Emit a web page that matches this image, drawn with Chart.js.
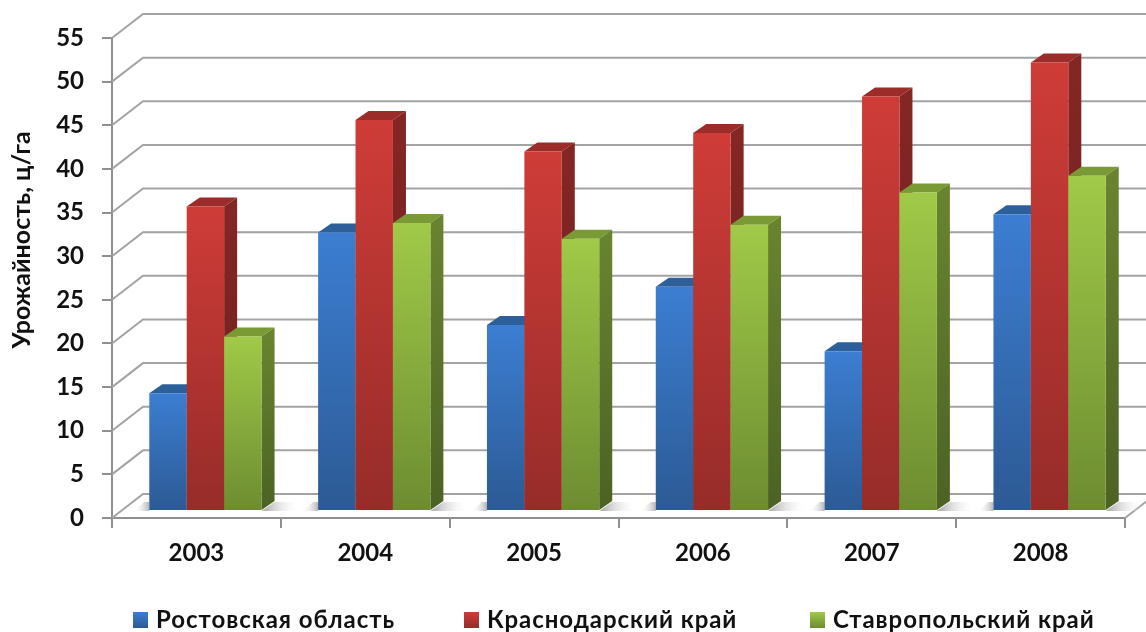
<!DOCTYPE html>
<html>
<head>
<meta charset="utf-8">
<style>
  html, body { margin: 0; padding: 0; background: #fff; }
  canvas { display: block; }
</style>
<script src="https://cdn.jsdelivr.net/npm/chart.js@4"></script>
</head>
<body>
<canvas id="chart" width="1146" height="632"></canvas>
<script>
const years = ['2003', '2004', '2005', '2006', '2007', '2008'];
const rostov = [13.5, 31.9, 21.3, 25.7, 18.3, 34];
const krasnodar = [34.9, 44.8, 41.2, 43.3, 47.5, 51.4];
const stavropol = [20, 33, 31.2, 32.8, 36.5, 38.4];
const regionNames = ['Ростовская область', 'Краснодарский край', 'Ставропольский край'];
const axisTitle = 'Урожайность, ц/га';
const legendX = [133, 464, 810];

// front, top and side colours of each series
const fronts = [['#3c7ed2', '#2c5a94'], ['#cf3c38', '#962c29'], ['#a0ca48', '#6d8c31']];
const tops = ['#2d5f9b', '#9c2c29', '#7a9a35'];
const sides = [['#2a5588', '#234a78'], ['#842624', '#6e1f1d'], ['#68842f', '#4b6224']];

const FONT = 'Lato, "Noto Sans", sans-serif';
const GRID = '#a3a3a3';
const AXIS = '#8f8f8f';

// wall depth of the 3d box, bar depth, and how far bars stand off the front edge
const wallX = 31, wallY = 24;
const barDX = 13, barDY = 9;
const shiftX = 9, shiftY = 7;

function frontFill(index) {
  return function (c) {
    const s = c.chart.scales.y;
    if (c.type !== 'data' || !s) return fronts[index][0];
    const y0 = s.getPixelForValue(c.raw), y1 = s.getPixelForValue(0);
    // scales have no pixels until the first layout has run
    if (!isFinite(y0) || !isFinite(y1)) return fronts[index][0];
    const g = c.chart.ctx.createLinearGradient(0, y0, 0, y1);
    g.addColorStop(0, fronts[index][0]);
    g.addColorStop(1, fronts[index][1]);
    return g;
  };
}

function drawWalls(chart) {
  const ctx = chart.ctx, y = chart.scales.y, a = chart.chartArea;
  ctx.save();
  ctx.strokeStyle = GRID;
  ctx.lineWidth = 2;
  ctx.beginPath();
  y.ticks.forEach(t => {
    const p = y.getPixelForValue(t.value);
    ctx.moveTo(a.left, p);
    ctx.lineTo(a.left + wallX, p - wallY);
    ctx.lineTo(a.right + wallX, p - wallY);
  });
  ctx.moveTo(a.right, a.bottom);
  ctx.lineTo(a.right + wallX, a.bottom - wallY);
  ctx.stroke();

  // soft floor shadow either side of each group
  const first = chart.getDatasetMeta(0).data, last = chart.getDatasetMeta(2).data;
  const y1 = y.getPixelForValue(0) - shiftY, y0 = y1 - barDY;
  first.forEach((bar, i) => {
    const l = bar.x - bar.width / 2 + shiftX;
    const r = last[i].x + last[i].width / 2 + shiftX;
    let g = ctx.createLinearGradient(r + 4, 0, r + 38, 0);
    g.addColorStop(0, '#b4b4b4');
    g.addColorStop(1, 'rgba(255,255,255,0)');
    ctx.fillStyle = g;
    ctx.beginPath();
    ctx.moveTo(r, y1);
    ctx.lineTo(r + barDX, y0);
    ctx.lineTo(r + 38, y0);
    ctx.lineTo(r + 38, y1);
    ctx.fill();
    g = ctx.createLinearGradient(l, 0, l - 16, 0);
    g.addColorStop(0, '#b4b4b4');
    g.addColorStop(1, 'rgba(255,255,255,0)');
    ctx.fillStyle = g;
    ctx.beginPath();
    ctx.moveTo(l, y0);
    ctx.lineTo(l, y1);
    ctx.lineTo(l - 16, y1);
    ctx.lineTo(l - 5, y0);
    ctx.fill();
  });
  ctx.restore();
}

function drawFaces(ctx, meta, i) {
  meta.data.forEach(bar => {
    const l = bar.x - bar.width / 2, r = bar.x + bar.width / 2;
    ctx.fillStyle = tops[i];
    ctx.beginPath();
    ctx.moveTo(l, bar.y);
    ctx.lineTo(l + barDX, bar.y - barDY);
    ctx.lineTo(r + barDX, bar.y - barDY);
    ctx.lineTo(r, bar.y);
    ctx.fill();
    const g = ctx.createLinearGradient(0, bar.y, 0, bar.base);
    g.addColorStop(0, sides[i][0]);
    g.addColorStop(1, sides[i][1]);
    ctx.fillStyle = g;
    ctx.beginPath();
    ctx.moveTo(r, bar.y);
    ctx.lineTo(r + barDX, bar.y - barDY);
    ctx.lineTo(r + barDX, bar.base - barDY);
    ctx.lineTo(r, bar.base);
    ctx.fill();
  });
}

const box3d = {
  id: 'box3d',
  beforeDatasetsDraw(chart) {
    drawWalls(chart);
    // left to right here so each bar hides the side of the one before it;
    // the library's own pass goes the other way, so it gets cancelled below
    const ctx = chart.ctx;
    ctx.save();
    ctx.translate(shiftX, -shiftY);
    chart.data.datasets.forEach((ds, i) => {
      const meta = chart.getDatasetMeta(i);
      drawFaces(ctx, meta, i);
      meta.controller.draw();
    });
    ctx.restore();
    return false;
  },
  afterDraw(chart) {
    const ctx = chart.ctx;
    ctx.save();
    ctx.fillStyle = '#111';
    ctx.font = 'bold 25px ' + FONT;
    ctx.textAlign = 'center';
    ctx.textBaseline = 'middle';
    ctx.translate(22, 240);
    ctx.rotate(-Math.PI / 2);
    ctx.fillText(axisTitle, 0, 0);
    ctx.restore();

    // legend: spacing between entries is uneven, so it is laid out by hand
    ctx.save();
    ctx.font = 'bold 24px ' + FONT;
    ctx.letterSpacing = '0.95px';
    ctx.textBaseline = 'middle';
    chart.data.datasets.forEach((ds, i) => {
      const g = ctx.createLinearGradient(0, 612, 0, 628);
      g.addColorStop(0, fronts[i][0]);
      g.addColorStop(1, fronts[i][1]);
      ctx.fillStyle = g;
      ctx.fillRect(legendX[i], 612, 15, 16);
      ctx.fillStyle = '#111';
      ctx.fillText(ds.label, legendX[i] + 23, 620);
    });
    ctx.restore();
  }
};

new Chart(document.getElementById('chart'), {
  type: 'bar',
  data: {
    labels: years,
    datasets: [
      { label: regionNames[0], data: rostov, backgroundColor: frontFill(0) },
      { label: regionNames[1], data: krasnodar, backgroundColor: frontFill(1) },
      { label: regionNames[2], data: stavropol, backgroundColor: frontFill(2) }
    ]
  },
  plugins: [box3d],
  options: {
    responsive: false,
    animation: false,
    categoryPercentage: 0.665,
    barPercentage: 1,
    layout: { padding: { left: 0, right: 21, top: 38, bottom: 0 } },
    plugins: { legend: { display: false }, tooltip: { enabled: false } },
    scales: {
      x: {
        afterFit(s) { s.height = 114; },
        grid: { color: AXIS, lineWidth: 2, drawOnChartArea: false, tickLength: 10 },
        border: { color: AXIS, width: 2 },
        ticks: { color: '#111', font: { family: FONT, weight: 'bold', size: 24 }, padding: 11, maxRotation: 0 }
      },
      y: {
        min: 0,
        max: 55,
        afterFit(s) { s.width = 112; },
        grid: { color: AXIS, lineWidth: 2, drawOnChartArea: false, tickLength: 10 },
        border: { color: AXIS, width: 2 },
        ticks: { stepSize: 5, color: '#111', font: { family: FONT, weight: 'bold', size: 24 }, padding: 18 }
      }
    }
  }
});
</script>
</body>
</html>
